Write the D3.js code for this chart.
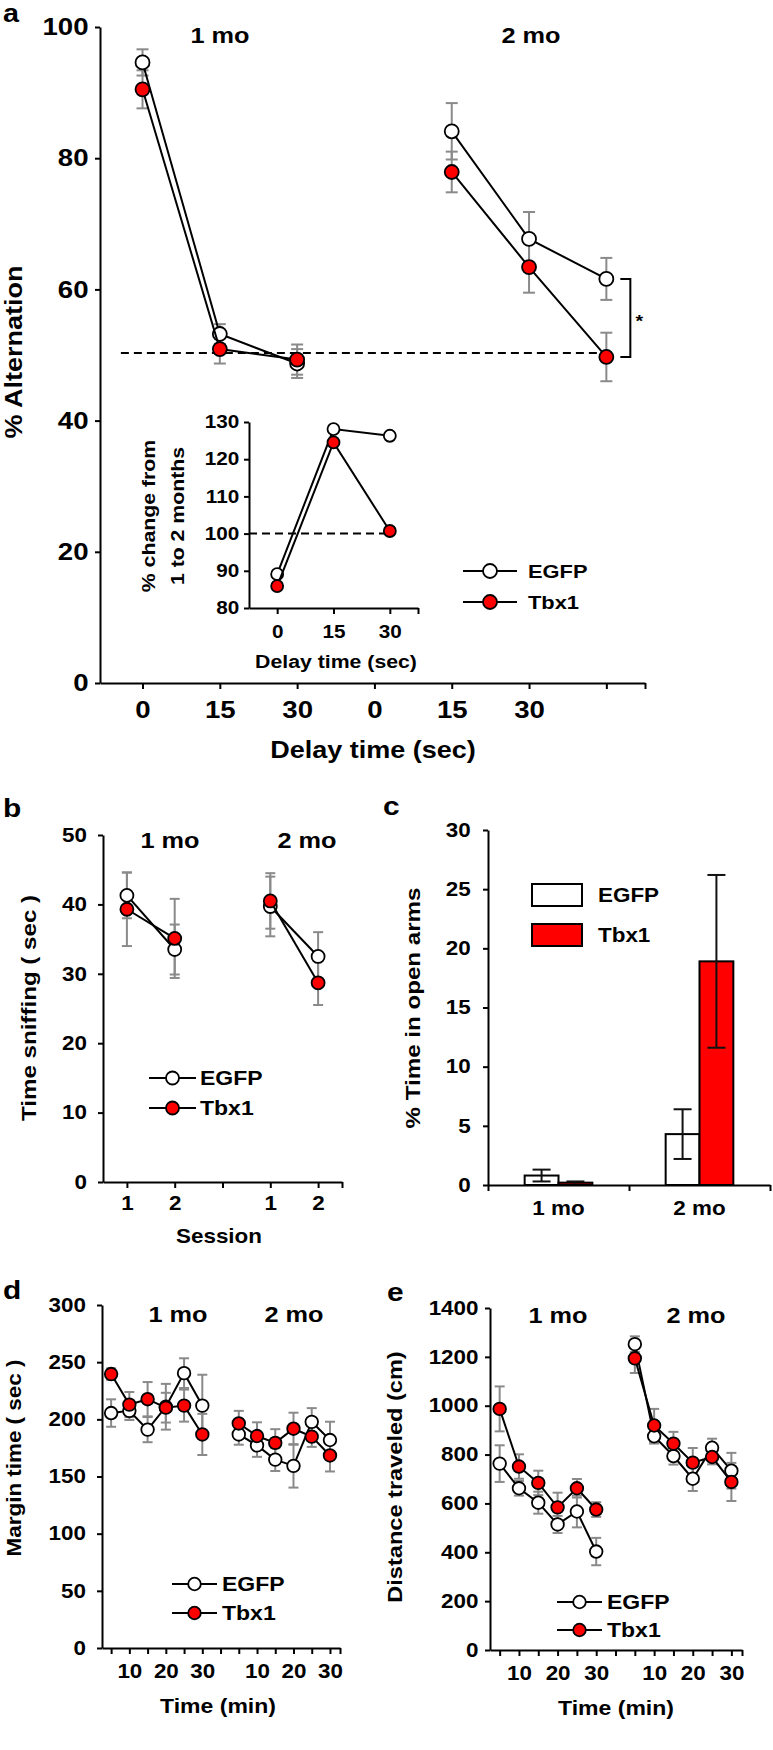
<!DOCTYPE html>
<html>
<head>
<meta charset="utf-8">
<script src="https://cdnjs.cloudflare.com/ajax/libs/d3/7.8.5/d3.min.js"></script>
<style>
body { margin: 0; background: #fff; }
svg text { font-family: "Liberation Sans", Arial, sans-serif; font-weight: bold; fill: #000; }
</style>
</head>
<body>
<div id="fig"></div>
<script>
// ---- panel a : % alternation, 1 mo and 2 mo
const aTicks = ['0', '15', '30', '0', '15', '30', ''];
const aPos = [1, 2, 3, 5, 6, 7];
const aEgfp = [94.6, 53.2, 48.7, 84.1, 67.7, 61.6];
const aEgfpErr = [2.0, 1.5, 2.2, 4.3, 4.1, 3.2];
const aTbx = [90.5, 50.9, 49.3, 77.9, 63.4, 49.7];
const aTbxErr = [2.9, 2.2, 2.3, 3.1, 3.9, 3.7];
const aChance = 50.3;

// inset : % change from 1 to 2 months
const insetTicks = ['0', '15', '30'];
const insetEgfp = [89.1, 128.1, 126.3];
const insetTbx = [85.9, 124.5, 100.7];
const insetRef = 100;

// ---- panel b : time sniffing
const bTicks = ['1', '2', '', '1', '2'];
const bPos = [1, 2, 4, 5];
const bEgfp = [41.3, 33.5, 39.7, 32.5];
const bEgfpErr = [3.3, 3.6, 4.3, 3.5];
const bTbx = [39.3, 35.1, 40.5, 28.7];
const bTbxErr = [5.3, 5.7, 4.0, 3.2];

// ---- panel c : % time in open arms
const cGroups = ['1 mo', '2 mo'];
const cEgfp = [0.8, 4.3];
const cEgfpErr = [0.5, 2.1];
const cTbx = [0.2, 18.9];
const cTbxErr = [0.1, 7.3];

// ---- panels d, e : 5 min bins, 1 mo then 2 mo
const timeTicks = ['', '10', '', '20', '', '30', '', '', '10', '', '20', '', '30'];
const timePos = [1, 2, 3, 4, 5, 6, 8, 9, 10, 11, 12, 13];
const dEgfp = [205.5, 207.4, 191, 211, 240.4, 212, 186.8, 177.2, 164.8, 159.3, 197.8, 181.9];
const dEgfpErr = [12, 8, 11, 20, 13, 27, 9, 10, 10, 19, 12, 16];
const dTbx = [239.6, 212.9, 217.6, 210.2, 212, 186.8, 196.4, 185.4, 179.4, 191.8, 184.9, 168.4];
const dTbxErr = [5, 11, 15, 13, 14, 18, 11, 12, 12, 14, 9, 14];
const eEgfp = [763, 662, 603, 514, 567, 403, 1252, 875, 794, 701, 828, 734];
const eEgfpErr = [75, 30, 45, 35, 65, 56, 32, 30, 35, 50, 37, 73];
const eTbx = [987, 751, 684, 584, 662, 575, 1194, 919, 845, 767, 790, 688];
const eTbxErr = [92, 50, 50, 60, 38, 30, 60, 68, 48, 60, 30, 78];

const SX = 1.15;   // the figure's type is set a bit wide
const RED = '#f00';
const GREY = '#8a8a8a';

const svg = d3.select('#fig').append('svg')
    .attr('width', 773)
    .attr('height', 1750);

function txt(g, x, y, s, size, anchor, rot) {
    return g.append('text')
        .attr('transform', 'translate(' + x + ',' + y + ')' + (rot ? ' rotate(' + rot + ')' : '') + ' scale(' + SX + ',1)')
        .attr('text-anchor', anchor || 'middle')
        .style('font-size', size + 'px')
        .text(s);
}

function styleAxis(ax, size) {
    ax.attr('font-family', null).attr('font-size', null);
    ax.select('.domain').attr('stroke', '#000').attr('stroke-width', 2);
    ax.selectAll('.tick line').attr('stroke', '#000').attr('stroke-width', 2);
    ax.selectAll('.tick text')
        .attr('transform', 'scale(' + SX + ',1)')
        .style('font-size', size + 'px');
}

function axes(g, x, y, o) {
    let gy = g.append('g')
        .attr('transform', 'translate(' + x.range()[0] + ',0)')
        .call(d3.axisLeft(y).tickValues(o.yTicks).tickFormat(d3.format('d'))
            .tickSize(5).tickSizeOuter(0).tickPadding(o.ypad));
    styleAxis(gy, o.size);
    let gx = g.append('g')
        .attr('transform', 'translate(0,' + y.range()[0] + ')')
        .call(d3.axisBottom(x).tickValues(o.xTicks).tickFormat(o.xFmt).tickSize(6).tickSizeOuter(0).tickPadding(o.xpad));
    styleAxis(gx, o.size);
}

function linePanel(g, x, y, o) {
    const series = [
        { vals: o.egfp, err: o.egfpErr, fill: '#fff' },
        { vals: o.tbx, err: o.tbxErr, fill: RED }
    ];
    const cap = o.cap || 5;
    series.forEach(function (s) {
        if (!s.err) return;
        s.vals.forEach(function (v, i) {
            const px = x(o.pos[i]);
            const e = s.err[i];
            const eb = g.append('g').attr('stroke', GREY).attr('stroke-width', 2);
            eb.append('line').attr('x1', px).attr('x2', px).attr('y1', y(v - e)).attr('y2', y(v + e));
            eb.append('line').attr('x1', px - cap).attr('x2', px + cap).attr('y1', y(v + e)).attr('y2', y(v + e));
            eb.append('line').attr('x1', px - cap).attr('x2', px + cap).attr('y1', y(v - e)).attr('y2', y(v - e));
        });
    });
    series.forEach(function (s) {
        const pts = s.vals.map(function (v, i) { return { p: o.pos[i], v: v }; });
        const line = d3.line().x(function (d) { return x(d.p); }).y(function (d) { return y(d.v); });
        o.segs.forEach(function (sg) {
            g.append('path')
                .datum(pts.slice(sg[0], sg[1]))
                .attr('fill', 'none')
                .attr('stroke', '#000')
                .attr('stroke-width', 2)
                .attr('d', line);
        });
        g.selectAll(null)
            .data(pts)
            .enter().append('circle')
            .attr('cx', function (d) { return x(d.p); })
            .attr('cy', function (d) { return y(d.v); })
            .attr('r', o.r)
            .attr('fill', s.fill)
            .attr('stroke', '#000')
            .attr('stroke-width', 1.8);
    });
}

function lineLegend(g, x1, x2, xt, y1, y2, r, size) {
    [[y1, '#fff', 'EGFP'], [y2, RED, 'Tbx1']].forEach(function (d) {
        g.append('line').attr('x1', x1).attr('x2', x2).attr('y1', d[0]).attr('y2', d[0])
            .attr('stroke', '#000').attr('stroke-width', 2);
        g.append('circle').attr('cx', (x1 + x2) / 2).attr('cy', d[0]).attr('r', r)
            .attr('fill', d[1]).attr('stroke', '#000').attr('stroke-width', 1.8);
        txt(g, xt, d[0] + 7, d[2], size, 'start');
    });
}

const timeFmt = function (p) { return timeTicks[p - 1] || ''; };

// ================= panel a
(function () {
    const g = svg.append('g');
    const x = d3.scaleLinear().domain([0.45, 7.5]).range([100, 645]);
    const y = d3.scaleLinear().domain([0, 100]).range([683, 27]);
    axes(g, x, y, {
        yTicks: [0, 20, 40, 60, 80, 100], ypad: 5, size: 24,
        xTicks: [1, 2, 3, 4, 5, 6, 7, 7.5], xFmt: function (p) { return aTicks[p - 1] || ''; }, xpad: 12
    });
    // chance level
    g.append('line')
        .attr('x1', x(0.72)).attr('x2', x(7))
        .attr('y1', y(aChance)).attr('y2', y(aChance))
        .attr('stroke', '#000').attr('stroke-width', 2).attr('stroke-dasharray', '8,5');
    linePanel(g, x, y, {
        pos: aPos, egfp: aEgfp, egfpErr: aEgfpErr, tbx: aTbx, tbxErr: aTbxErr,
        segs: [[0, 3], [3, 6]], r: 7, cap: 6
    });
    // significance bracket
    const bx = x(7) + 24, y1 = y(aEgfp[5]), y2 = y(aTbx[5]);
    g.append('path')
        .attr('d', 'M' + (bx - 10) + ',' + y1 + 'H' + bx + 'V' + y2 + 'H' + (bx - 10))
        .attr('fill', 'none').attr('stroke', '#000').attr('stroke-width', 2);
    txt(g, bx + 9, (y1 + y2) / 2 + 9, '*', 17, 'middle');

    txt(g, 220, 43, '1 mo', 22);
    txt(g, 531, 43, '2 mo', 22);
    txt(g, 3, 22, 'a', 25, 'start');
    txt(g, 22, 352, '% Alternation', 23.5, 'middle', -90);
    txt(g, 373, 758, 'Delay time (sec)', 23.5);
    lineLegend(g, 463, 517, 528, 571, 602, 7, 19);

    // inset
    const ix = d3.scaleLinear().domain([-0.5, 2.5]).range([249, 418]);
    const iy = d3.scaleLinear().domain([80, 130]).range([608, 422]);
    axes(g, ix, iy, {
        yTicks: [80, 90, 100, 110, 120, 130], ypad: 3.5, size: 18,
        xTicks: [0, 1, 2, 2.5], xFmt: function (p) { return insetTicks[p] || ''; }, xpad: 11
    });
    g.append('line')
        .attr('x1', ix(-0.5)).attr('x2', ix(2))
        .attr('y1', iy(insetRef)).attr('y2', iy(insetRef))
        .attr('stroke', '#000').attr('stroke-width', 2).attr('stroke-dasharray', '8,5');
    linePanel(g, ix, iy, {
        pos: [0, 1, 2], egfp: insetEgfp, tbx: insetTbx, segs: [[0, 3]], r: 6
    });
    txt(g, 155, 516, '% change from', 18.5, 'middle', -90);
    txt(g, 184, 516, '1 to 2 months', 18.5, 'middle', -90);
    txt(g, 336, 668, 'Delay time (sec)', 18.5);
})();

// ================= panel b
(function () {
    const g = svg.append('g');
    const x = d3.scaleLinear().domain([0.5, 5.5]).range([103, 342]);
    const y = d3.scaleLinear().domain([0, 50]).range([1182, 835]);
    axes(g, x, y, {
        yTicks: [0, 10, 20, 30, 40, 50], ypad: 9, size: 19.5,
        xTicks: [1, 2, 3, 4, 5, 5.5], xFmt: function (p) { return bTicks[p - 1] || ''; }, xpad: 8
    });
    linePanel(g, x, y, {
        pos: bPos, egfp: bEgfp, egfpErr: bEgfpErr, tbx: bTbx, tbxErr: bTbxErr,
        segs: [[0, 2], [2, 4]], r: 6.5
    });
    txt(g, 170, 848, '1 mo', 22);
    txt(g, 307, 848, '2 mo', 22);
    txt(g, 3, 817, 'b', 26, 'start');
    txt(g, 36, 1008, 'Time sniffing ( sec )', 21, 'middle', -90);
    txt(g, 219, 1243, 'Session', 19.5);
    lineLegend(g, 149, 196, 200, 1078, 1108, 6.5, 20);
})();

// ================= panel c
(function () {
    const g = svg.append('g');
    const x = d3.scaleBand().domain(cGroups).range([488, 770]).paddingInner(0.52).paddingOuter(0.26);
    const sub = d3.scaleBand().domain(['EGFP', 'Tbx1']).range([0, x.bandwidth()]);
    const xl = d3.scaleLinear().domain([0, 2]).range([488, 770]);
    const y = d3.scaleLinear().domain([0, 30]).range([1185, 830]);

    const rows = [];
    cGroups.forEach(function (grp, i) {
        rows.push({ grp: grp, key: 'EGFP', v: cEgfp[i], e: cEgfpErr[i], fill: '#fff' });
        rows.push({ grp: grp, key: 'Tbx1', v: cTbx[i], e: cTbxErr[i], fill: RED });
    });

    g.selectAll('.bar')
        .data(rows)
        .enter().append('rect')
        .attr('class', 'bar')
        .attr('x', function (d) { return x(d.grp) + sub(d.key); })
        .attr('width', sub.bandwidth())
        .attr('y', function (d) { return y(d.v); })
        .attr('height', function (d) { return y(0) - y(d.v); })
        .attr('fill', function (d) { return d.fill; })
        .attr('stroke', '#000')
        .attr('stroke-width', 2);

    const eb = g.selectAll('.err')
        .data(rows)
        .enter().append('g')
        .attr('class', 'err')
        .attr('stroke', '#111')
        .attr('stroke-width', 2)
        .attr('transform', function (d) { return 'translate(' + (x(d.grp) + sub(d.key) + sub.bandwidth() / 2) + ',0)'; });
    eb.append('line').attr('x1', 0).attr('x2', 0)
        .attr('y1', function (d) { return y(Math.max(0, d.v - d.e)); })
        .attr('y2', function (d) { return y(d.v + d.e); });
    eb.append('line').attr('x1', -9).attr('x2', 9)
        .attr('y1', function (d) { return y(d.v + d.e); })
        .attr('y2', function (d) { return y(d.v + d.e); });
    eb.filter(function (d) { return d.v - d.e > 0.3; })
        .append('line').attr('x1', -9).attr('x2', 9)
        .attr('y1', function (d) { return y(d.v - d.e); })
        .attr('y2', function (d) { return y(d.v - d.e); });

    let gy = g.append('g')
        .attr('transform', 'translate(488,0)')
        .call(d3.axisLeft(y).tickValues([0, 5, 10, 15, 20, 25, 30]).tickSize(5).tickSizeOuter(0).tickPadding(10));
    styleAxis(gy, 19.5);
    let gx = g.append('g')
        .attr('transform', 'translate(0,' + y(0) + ')')
        .call(d3.axisBottom(xl).tickValues([0, 1, 2]).tickFormat('').tickSize(6).tickSizeOuter(0));
    styleAxis(gx, 19.5);
    let gl = g.append('g')
        .attr('transform', 'translate(0,' + y(0) + ')')
        .call(d3.axisBottom(x).tickSize(0).tickPadding(16));
    styleAxis(gl, 19.5);
    gl.select('.domain').remove();

    // legend
    [[884, '#fff', 'EGFP'], [924, RED, 'Tbx1']].forEach(function (d) {
        g.append('rect').attr('x', 532).attr('y', d[0]).attr('width', 50).attr('height', 22)
            .attr('fill', d[1]).attr('stroke', '#000').attr('stroke-width', 2);
        txt(g, 598, d[0] + 18, d[2], 19.5, 'start');
    });

    txt(g, 383, 815, 'c', 26, 'start');
    txt(g, 420, 1008, '% Time in open arms', 21, 'middle', -90);
})();

// ================= panel d
(function () {
    const g = svg.append('g');
    const x = d3.scaleLinear().domain([0.5, 13.55]).range([102, 340]);
    const y = d3.scaleLinear().domain([0, 300]).range([1648, 1305]);
    axes(g, x, y, {
        yTicks: [0, 50, 100, 150, 200, 250, 300], ypad: 9, size: 19.5,
        xTicks: d3.range(1, 14).concat([13.55]), xFmt: timeFmt, xpad: 10
    });
    linePanel(g, x, y, {
        pos: timePos, egfp: dEgfp, egfpErr: dEgfpErr, tbx: dTbx, tbxErr: dTbxErr,
        segs: [[0, 6], [6, 12]], r: 6.3
    });
    txt(g, 178, 1322, '1 mo', 22);
    txt(g, 294, 1322, '2 mo', 22);
    txt(g, 3, 1299, 'd', 26, 'start');
    txt(g, 21, 1458, 'Margin time ( sec )', 19.5, 'middle', -90);
    txt(g, 218, 1713, 'Time (min)', 20);
    lineLegend(g, 172, 217, 222, 1584, 1613, 6.3, 20);
})();

// ================= panel e
(function () {
    const g = svg.append('g');
    const x = d3.scaleLinear().domain([0.5, 13.55]).range([490, 742]);
    const y = d3.scaleLinear().domain([0, 1400]).range([1650, 1308]);
    axes(g, x, y, {
        yTicks: [0, 200, 400, 600, 800, 1000, 1200, 1400], ypad: 5, size: 19.5,
        xTicks: d3.range(1, 14).concat([13.55]), xFmt: timeFmt, xpad: 10
    });
    linePanel(g, x, y, {
        pos: timePos, egfp: eEgfp, egfpErr: eEgfpErr, tbx: eTbx, tbxErr: eTbxErr,
        segs: [[0, 6], [6, 12]], r: 6.3
    });
    txt(g, 558, 1323, '1 mo', 22);
    txt(g, 696, 1323, '2 mo', 22);
    txt(g, 387, 1301, 'e', 26, 'start');
    txt(g, 402, 1477, 'Distance traveled (cm)', 20.5, 'middle', -90);
    txt(g, 616, 1715, 'Time (min)', 20);
    lineLegend(g, 557, 602, 607, 1602, 1630, 6.3, 20);
})();
</script>
</body>
</html>
